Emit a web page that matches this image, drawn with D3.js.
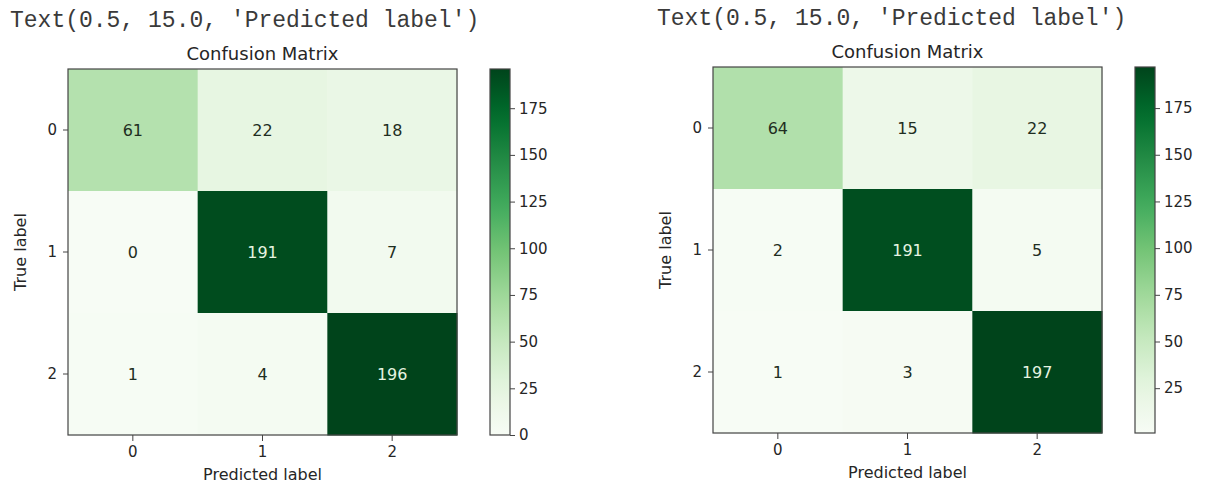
<!DOCTYPE html>
<html>
<head>
<meta charset="utf-8">
<script src="https://cdn.jsdelivr.net/npm/d3@7"></script>
<style>
  body { margin: 0; background: #fff; }
  svg { display: block; }
</style>
</head>
<body>
<svg id="chart" width="1205" height="485"></svg>
<script>
// Class labels shared by both confusion matrices
const classes = ["0", "1", "2"];

// Counts: rows = true label, columns = predicted label
const matrixA = [
  [61, 22, 18],
  [0, 191, 7],
  [1, 4, 196]
];
const matrixB = [
  [64, 15, 22],
  [2, 191, 5],
  [1, 3, 197]
];

// Colorbar tick values
const colorTicksA = [0, 25, 50, 75, 100, 125, 150, 175];
const colorTicksB = [25, 50, 75, 100, 125, 150, 175];

// Texts
const outputLine = "Text(0.5, 15.0, 'Predicted label')";
const titleText = "Confusion Matrix";
const xLabelText = "Predicted label";
const yLabelText = "True label";

const svg = d3.select("#chart");
const sans = "'DejaVu Sans', Verdana, sans-serif";
const mono = "'Courier New', 'Liberation Mono', monospace";
const ink = "#262626";

// Matplotlib "Greens": linear segments through the 9 ColorBrewer colours
const greens = d3.piecewise(d3.interpolateRgb, d3.schemeGreens[9]);

const panels = [
  { data: matrixA, ticks: colorTicksA, left: 68, top: 69, textX: 10, textY: 27, id: "a" },
  { data: matrixB, ticks: colorTicksB, left: 713, top: 67, textX: 657, textY: 25, id: "b" }
];

const W = 389, H = 366;
const cbGap = 422, cbW = 20;

const defs = svg.append("defs");

panels.forEach(p => {
  const flat = p.data.flat();
  const vmin = d3.min(flat), vmax = d3.max(flat);
  const norm = d3.scaleLinear().domain([vmin, vmax]).range([0, 1]);
  const color = v => greens(norm(v));
  const thresh = (vmin + vmax) / 2;

  const g = svg.append("g");

  // Printed output line above the figure
  g.append("text")
    .attr("x", p.textX).attr("y", p.textY)
    .attr("font-family", mono).attr("font-size", 23)
    .attr("fill", "#3a3a3a")
    .text(outputLine);

  const x = d3.scaleBand().domain(classes).range([p.left, p.left + W]);
  const y = d3.scaleBand().domain(classes).range([p.top, p.top + H]);

  // Heatmap cells
  const cells = [];
  p.data.forEach((row, i) => row.forEach((v, j) => cells.push({ r: classes[i], c: classes[j], v })));

  g.selectAll("rect.cell").data(cells).join("rect")
    .attr("class", "cell")
    .attr("x", d => x(d.c)).attr("y", d => y(d.r))
    .attr("width", x.bandwidth() + 0.5).attr("height", y.bandwidth() + 0.5)
    .attr("fill", d => color(d.v));

  g.selectAll("text.val").data(cells).join("text")
    .attr("class", "val")
    .attr("x", d => x(d.c) + x.bandwidth() / 2)
    .attr("y", d => y(d.r) + y.bandwidth() / 2)
    .attr("dy", "0.35em")
    .attr("text-anchor", "middle")
    .attr("font-family", sans).attr("font-size", 16)
    .attr("fill", d => d.v > thresh ? "#e6f4e1" : "#1f2e22")
    .text(d => d.v);

  // Frame
  g.append("rect")
    .attr("x", p.left).attr("y", p.top).attr("width", W).attr("height", H)
    .attr("fill", "none").attr("stroke", "#444").attr("stroke-width", 1.2);

  // Axes
  const styleAxis = sel => {
    sel.attr("font-size", null).attr("font-family", null);
    sel.select(".domain").remove();
    sel.selectAll(".tick line").attr("stroke", "#444");
    sel.selectAll(".tick text")
      .style("font-family", sans).style("font-size", "15px").attr("fill", ink);
  };

  g.append("g")
    .attr("transform", `translate(${p.left},0)`)
    .call(d3.axisLeft(y).tickSize(5).tickPadding(6))
    .call(styleAxis);

  g.append("g")
    .attr("transform", `translate(0,${p.top + H})`)
    .call(d3.axisBottom(x).tickSize(6).tickPadding(5))
    .call(styleAxis);

  // Title and axis labels
  g.append("text")
    .attr("x", p.left + W / 2).attr("y", p.top - 9)
    .attr("text-anchor", "middle")
    .attr("font-family", sans).attr("font-size", 18).attr("fill", ink)
    .text(titleText);

  g.append("text")
    .attr("x", p.left + W / 2).attr("y", p.top + H + 45)
    .attr("text-anchor", "middle")
    .attr("font-family", sans).attr("font-size", 16).attr("fill", ink)
    .text(xLabelText);

  g.append("text")
    .attr("transform", `translate(${p.left - 42},${p.top + H / 2}) rotate(-90)`)
    .attr("text-anchor", "middle")
    .attr("font-family", sans).attr("font-size", 16).attr("fill", ink)
    .text(yLabelText);

  // Colorbar
  const gradId = "grad-" + p.id;
  const grad = defs.append("linearGradient")
    .attr("id", gradId)
    .attr("x1", 0).attr("y1", 1).attr("x2", 0).attr("y2", 0);
  d3.range(0, 1.0001, 0.05).forEach(t => {
    grad.append("stop").attr("offset", t).attr("stop-color", greens(t));
  });

  const cbX = p.left + cbGap;
  const cbScale = d3.scaleLinear().domain([vmin, vmax]).range([p.top + H, p.top]);

  g.append("rect")
    .attr("x", cbX).attr("y", p.top).attr("width", cbW).attr("height", H)
    .attr("fill", `url(#${gradId})`)
    .attr("stroke", "#444").attr("stroke-width", 1.2);

  g.append("g")
    .attr("transform", `translate(${cbX + cbW},0)`)
    .call(d3.axisRight(cbScale).tickValues(p.ticks).tickSize(5).tickPadding(4))
    .call(styleAxis);
});
</script>
</body>
</html>
